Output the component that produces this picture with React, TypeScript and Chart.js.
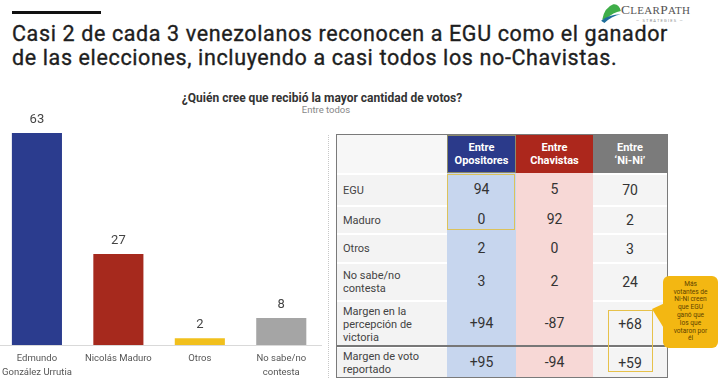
import React, { useEffect, useLayoutEffect, useRef } from "react";
import { Chart, registerables } from "chart.js";

Chart.register(...registerables);

const categories: (string | string[])[] = [
  ["Edmundo", "González Urrutia"],
  "Nicolás Maduro",
  "Otros",
  ["No sabe/no", "contesta"],
];
const totals = [63, 27, 2, 8];
const barColors = ["#2b3c8e", "#a6291d", "#f1c01d", "#a5a5a5"];

const rowLabels = ["EGU", "Maduro", "Otros", "No sabe/no\ncontesta", "Margen en la\npercepción de\nvictoria", "Margen de voto\nreportado"];
const opositores = ["94", "0", "2", "3", "+94", "+95"];
const chavistas = ["5", "92", "0", "2", "-87", "-94"];
const niNi = ["70", "2", "3", "24", "+68", "+59"];
const headers = [["Entre", "Opositores"], ["Entre", "Chavistas"], ["Entre", "‘Ni-Ni’"]];
const titleLines = [
  "Casi 2 de cada 3 venezolanos reconocen a EGU como el ganador",
  "de las elecciones, incluyendo a casi todos los no-Chavistas.",
];
const calloutLines = ["Más", "votantes de", "Ni-Ni creen", "que EGU", "ganó que", "los que", "votaron por", "él"];

const FONT = "'Roboto', 'Noto Sans', sans-serif";

function BarChart() {
  const ref = useRef<HTMLCanvasElement>(null);
  useEffect(() => {
    const valuePlugin = {
      id: "values",
      afterDatasetsDraw(chart: any) {
        const ctx = chart.ctx;
        const meta = chart.getDatasetMeta(0);
        ctx.save();
        ctx.font = `13px ${FONT}`;
        ctx.fillStyle = "#444";
        ctx.textAlign = "center";
        ctx.textBaseline = "bottom";
        meta.data.forEach((el: any, i: number) => {
          ctx.fillText(String(totals[i]), el.x, el.y - 7);
        });
        ctx.restore();
      },
    };
    const chart = new Chart(ref.current!, {
      type: "bar",
      data: {
        labels: categories,
        datasets: [
          {
            data: totals,
            backgroundColor: barColors,
            barPercentage: 0.615,
            categoryPercentage: 1,
          },
        ],
      },
      options: {
        animation: false,
        responsive: false,
        maintainAspectRatio: false,
        layout: { padding: 0 },
        plugins: { legend: { display: false }, tooltip: { enabled: false } },
        scales: {
          x: {
            grid: { display: false, drawTicks: false },
            border: { display: true, color: "#d9d9d9", width: 1 },
            ticks: {
              color: "#555",
              font: { size: 9.5, family: FONT, lineHeight: 1.5 },
              padding: 6,
              maxRotation: 0,
              autoSkip: false,
            },
            afterFit: (s: any) => {
              s.height = 33;
            },
          },
          y: { display: false, min: 0, max: 69.2 },
        },
      },
      plugins: [valuePlugin],
    });
    return () => chart.destroy();
  }, []);
  return (
    <canvas
      ref={ref}
      width={326}
      height={266}
      style={{ position: "absolute", left: -4, top: 112, width: 326, height: 266 }}
    />
  );
}

const colX = [337, 447, 516, 593, 667];
const rowY = [135, 173, 205, 233, 262, 300, 346, 377];
const headBg = ["#2b3a8a", "#ac271c", "#7b7b7b"];
const bodyBg = ["#c7d6ee", "#f7d8d6", "#f4f4f4"];

function Table() {
  const cells: React.ReactNode[] = [];
  cells.push(
    <div key="h0" style={{ position: "absolute", left: colX[0], top: rowY[0], width: colX[1] - colX[0], height: rowY[1] - rowY[0], background: "#f7f7f7" }} />
  );
  headers.forEach((h, c) => {
    cells.push(
      <div
        key={"h" + (c + 1)}
        style={{
          position: "absolute",
          left: colX[c + 1],
          top: rowY[0],
          width: colX[c + 2] - colX[c + 1],
          height: rowY[1] - rowY[0],
          background: headBg[c],
          color: "#fff",
          fontWeight: 700,
          fontSize: 11,
          lineHeight: "13px",
          display: "flex",
          flexDirection: "column",
          alignItems: "center",
          justifyContent: "center",
          boxSizing: "border-box",
          border: c === 0 ? "1.5px solid #8c8a6a" : "none",
        }}
      >
        <span>{h[0]}</span>
        <span>{h[1]}</span>
      </div>
    );
  });
  const cols = [opositores, chavistas, niNi];
  rowLabels.forEach((lab, r) => {
    const top = rowY[r + 1];
    const h = rowY[r + 2] - top;
    cells.push(
      <div
        key={"l" + r}
        style={{
          position: "absolute",
          left: colX[0],
          top,
          width: colX[1] - colX[0],
          height: h,
          background: "#f3f3f3",
          borderTop: "2px solid #fff",
          boxSizing: "border-box",
          color: "#444",
          fontSize: 11,
          lineHeight: "13px",
          paddingLeft: 6,
          display: "flex",
          alignItems: "center",
          whiteSpace: "pre",
        }}
      >
        {lab}
      </div>
    );
    cols.forEach((vals, c) => {
      cells.push(
        <div
          key={"c" + r + "_" + c}
          style={{
            position: "absolute",
            left: colX[c + 1],
            top,
            width: colX[c + 2] - colX[c + 1],
            height: h,
            background: bodyBg[c],
            borderTop: c === 2 ? "2px solid #fff" : "none",
            boxSizing: "border-box",
            color: "#333",
            fontSize: 14,
            display: "flex",
            alignItems: "center",
            justifyContent: "center",
          }}
        >
          {vals[r]}
        </div>
      );
    });
  });
  return (
    <div style={{ fontFamily: FONT }}>
      {cells}
      <div style={{ position: "absolute", left: colX[0], top: rowY[6] - 1, width: colX[4] - colX[0], height: 1.5, background: "#777" }} />
      <div style={{ position: "absolute", left: colX[0] - 1, top: rowY[0] - 1, width: colX[4] - colX[0] + 2, height: rowY[7] - rowY[0] + 2, border: "1.5px solid #7a7a7a", boxSizing: "border-box" }} />
      <div style={{ position: "absolute", left: 447, top: 174, width: 68, height: 56, border: "1.5px solid #dcc25a", boxSizing: "border-box" }} />
      <div style={{ position: "absolute", left: 608, top: 310, width: 45, height: 62, border: "1.5px solid #e6c14a", boxSizing: "border-box" }} />
      <svg style={{ position: "absolute", left: 650, top: 300 }} width={16} height={34} viewBox="0 0 16 34">
        <polygon points="15,3 2,9 15,30" fill="#f3b712" />
      </svg>
      <div
        style={{
          position: "absolute",
          left: 663,
          top: 276,
          width: 55,
          height: 72,
          background: "#f3b712",
          borderRadius: 6,
          color: "#5e4300",
          fontSize: 6.6,
          lineHeight: "7.8px",
          textAlign: "center",
          display: "flex",
          flexDirection: "column",
          alignItems: "center",
          justifyContent: "center",
        }}
      >
        {calloutLines.map((l, i) => (
          <span key={i}>{l}</span>
        ))}
      </div>
    </div>
  );
}

function TitleLines() {
  const r0 = useRef<HTMLSpanElement>(null);
  const r1 = useRef<HTMLSpanElement>(null);
  useLayoutEffect(() => {
    const w = r0.current!.getBoundingClientRect().width;
    const ls = (656 - w) / titleLines[0].length;
    r0.current!.style.letterSpacing = ls + "px";
    r1.current!.style.letterSpacing = ls + "px";
  }, []);
  return (
    <>
      <span ref={r0}>{titleLines[0]}</span>
      {"\n"}
      <span ref={r1}>{titleLines[1]}</span>
    </>
  );
}

export default function App() {
  return (
    <div style={{ position: "absolute", left: 0, top: 0, width: 720, height: 378, overflow: "hidden", background: "#fff", fontFamily: FONT }}>
      <div style={{ position: "absolute", left: 12, top: 11, width: 89, height: 3, background: "#111" }} />
      <div style={{ position: "absolute", left: 12, top: 22, fontSize: 21.5, fontWeight: 400, lineHeight: "24px", color: "#1e1e1e", whiteSpace: "pre", WebkitTextStroke: "0.35px #1e1e1e" }}>
        <TitleLines />
      </div>
      <svg style={{ position: "absolute", left: 600, top: 1 }} width={22} height={22} viewBox="0 0 20 20">
        <path d="M2 17 Q4 6 12 3 Q17 2 19 9 Q12 10 6 16 Z" fill="#3fae49" />
        <path d="M1 18 Q8 12 19 12 Q10 14 4 20 Z" fill="#1f6e9a" />
      </svg>
      <div style={{ position: "absolute", left: 621, top: 2, fontFamily: "'Liberation Serif', serif", fontSize: 13.5, color: "#555", letterSpacing: 0.3, whiteSpace: "nowrap" }}>
        C<span style={{ fontSize: 11 }}>LEAR</span>P<span style={{ fontSize: 11 }}>ATH</span>
      </div>
      <div style={{ position: "absolute", left: 636, top: 18, fontSize: 4, color: "#888", letterSpacing: 1.2, whiteSpace: "nowrap" }}>— STRATEGIES —</div>

      <div style={{ position: "absolute", left: 122, width: 400, top: 91, textAlign: "center", fontSize: 12, fontWeight: 700, color: "#333" }}>
        ¿Quién cree que recibió la mayor cantidad de votos?
      </div>
      <div style={{ position: "absolute", left: 276, width: 100, top: 104, textAlign: "center", fontSize: 9.5, color: "#888" }}>Entre todos</div>

      <BarChart />
      <div style={{ position: "absolute", left: 328, top: 135, width: 0, height: 243, borderLeft: "1px dotted #c8c8c8" }} />
      <Table />
    </div>
  );
}
